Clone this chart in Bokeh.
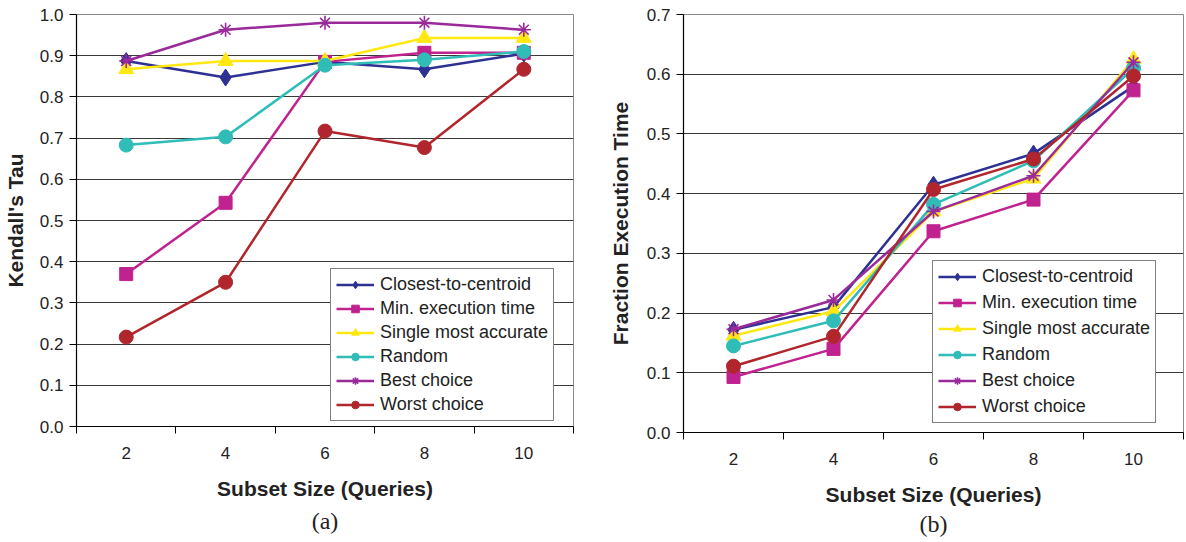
from bokeh.plotting import figure
from bokeh.models import Range1d, FixedTicker, NumeralTickFormatter, Legend, LegendItem, Title
from bokeh.layouts import row, column
from bokeh.embed import file_html
from bokeh.resources import INLINE

# ---- data ----
subset_sizes = [2, 4, 6, 8, 10]
series_names = ["Closest-to-centroid", "Min. execution time", "Single most accurate",
                "Random", "Best choice", "Worst choice"]

tau_closest = [0.887, 0.847, 0.885, 0.867, 0.905]
tau_minexec = [0.370, 0.543, 0.885, 0.907, 0.907]
tau_single = [0.867, 0.887, 0.887, 0.943, 0.943]
tau_random = [0.683, 0.703, 0.877, 0.890, 0.910]
tau_best = [0.887, 0.963, 0.980, 0.980, 0.963]
tau_worst = [0.217, 0.350, 0.717, 0.677, 0.867]

time_closest = [0.172, 0.210, 0.415, 0.467, 0.580]
time_minexec = [0.093, 0.140, 0.337, 0.390, 0.573]
time_single = [0.162, 0.203, 0.370, 0.425, 0.625]
time_random = [0.145, 0.187, 0.382, 0.455, 0.610]
time_best = [0.173, 0.222, 0.370, 0.430, 0.620]
time_worst = [0.111, 0.161, 0.407, 0.458, 0.597]

y_ticks_a = [0.0, 0.1, 0.2, 0.3, 0.4, 0.5, 0.6, 0.7, 0.8, 0.9, 1.0]
y_ticks_b = [0.0, 0.1, 0.2, 0.3, 0.4, 0.5, 0.6, 0.7]

# ---- styles ----
colors = ["#2E3192", "#C0228F", "#FFE812", "#30BDB8", "#9A2A9A", "#B0262C"]
markers = ["diamond", "square", "triangle", "circle", "asterisk", "circle"]
msizes = [17, 13, 15, 14, 14, 14]

SANS = "Liberation Sans"


def panel(series, yticks, ylabel, caption, border_left, border_right, border_bottom,
          width, height, legend_xy, legend_spacing, caption_standoff, ylabel_standoff):
    p = figure(width=width, height=height, output_backend="svg", toolbar_location=None,
               x_range=Range1d(1, 11), y_range=Range1d(yticks[0], yticks[-1]),
               min_border_left=border_left, min_border_right=border_right,
               min_border_top=14, min_border_bottom=border_bottom)
    p.background_fill_color = "white"
    p.outline_line_color = "#8a8a8a"
    p.xgrid.visible = False
    p.ygrid.grid_line_color = "#3a3a3a"
    p.ygrid.grid_line_width = 1

    p.xaxis.ticker = FixedTicker(ticks=subset_sizes, minor_ticks=[1, 3, 5, 7, 9, 11])
    p.xaxis.major_tick_out = 0
    p.xaxis.major_tick_in = 0
    p.xaxis.minor_tick_out = 7
    p.xaxis.minor_tick_in = 0
    p.xaxis.minor_tick_line_color = "black"
    p.xaxis.major_label_standoff = 13
    p.xaxis.axis_label = "Subset Size (Queries)"
    p.xaxis.axis_label_standoff = 15

    p.yaxis.ticker = FixedTicker(ticks=yticks)
    p.yaxis.formatter = NumeralTickFormatter(format="0.0")
    p.yaxis.major_tick_out = 7
    p.yaxis.major_tick_in = 0
    p.yaxis.minor_tick_out = 0
    p.yaxis.minor_tick_in = 0
    p.yaxis.major_label_standoff = 6
    p.yaxis.axis_label = ylabel
    p.yaxis.axis_label_standoff = ylabel_standoff

    for ax in (p.xaxis, p.yaxis):
        ax.axis_line_color = "black"
        ax.axis_line_width = 1.2
        ax.major_tick_line_color = "black"
        ax.major_label_text_font = SANS
        ax.major_label_text_font_size = "17px"
        ax.major_label_text_color = "#222222"
        ax.axis_label_text_font = SANS
        ax.axis_label_text_font_size = "21px"
        ax.axis_label_text_font_style = "bold"
        ax.axis_label_text_color = "#222222"

    items = []
    for name, ys, c, m, s in zip(series_names, series, colors, markers, msizes):
        ln = p.line(subset_sizes, ys, line_color=c, line_width=2.5)
        if m == "asterisk":
            sc = p.scatter(subset_sizes, ys, marker=m, size=s, line_color=c, line_width=1.6)
        else:
            sc = p.scatter(subset_sizes, ys, marker=m, size=s, fill_color=c, line_color=c)
        items.append(LegendItem(label=name, renderers=[ln, sc]))

    leg = Legend(items=items, location=legend_xy)
    leg.label_text_font = SANS
    leg.label_text_font_size = "18px"
    leg.label_text_color = "#222222"
    leg.glyph_width = 38
    leg.glyph_height = 19
    leg.label_height = 19
    leg.spacing = legend_spacing
    leg.padding = 5
    leg.margin = 0
    leg.label_standoff = 6
    leg.border_line_color = "black"
    leg.border_line_width = 1
    leg.background_fill_color = "white"
    leg.background_fill_alpha = 1
    p.add_layout(leg)

    cap = Title(text=caption, align="center", text_font="Liberation Serif",
                text_font_size="24px", text_font_style="normal", text_color="#222222",
                standoff=caption_standoff)
    p.add_layout(cap, "below")
    return p


pa = panel([tau_closest, tau_minexec, tau_single, tau_random, tau_best, tau_worst],
           y_ticks_a, "Kendall's Tau", "(a)", 75, 20, 116, 593, 542, (254, 5), 3, 6, 10)
pb = panel([time_closest, time_minexec, time_single, time_random, time_best, time_worst],
           y_ticks_b, "Fraction Execution Time", "(b)", 90, 3, 110, 593, 542, (249, 9), 5, 0, 12)

layout = row(column(pa), column(pb), spacing=0)
open("out.html", "w").write(file_html(layout, INLINE))
